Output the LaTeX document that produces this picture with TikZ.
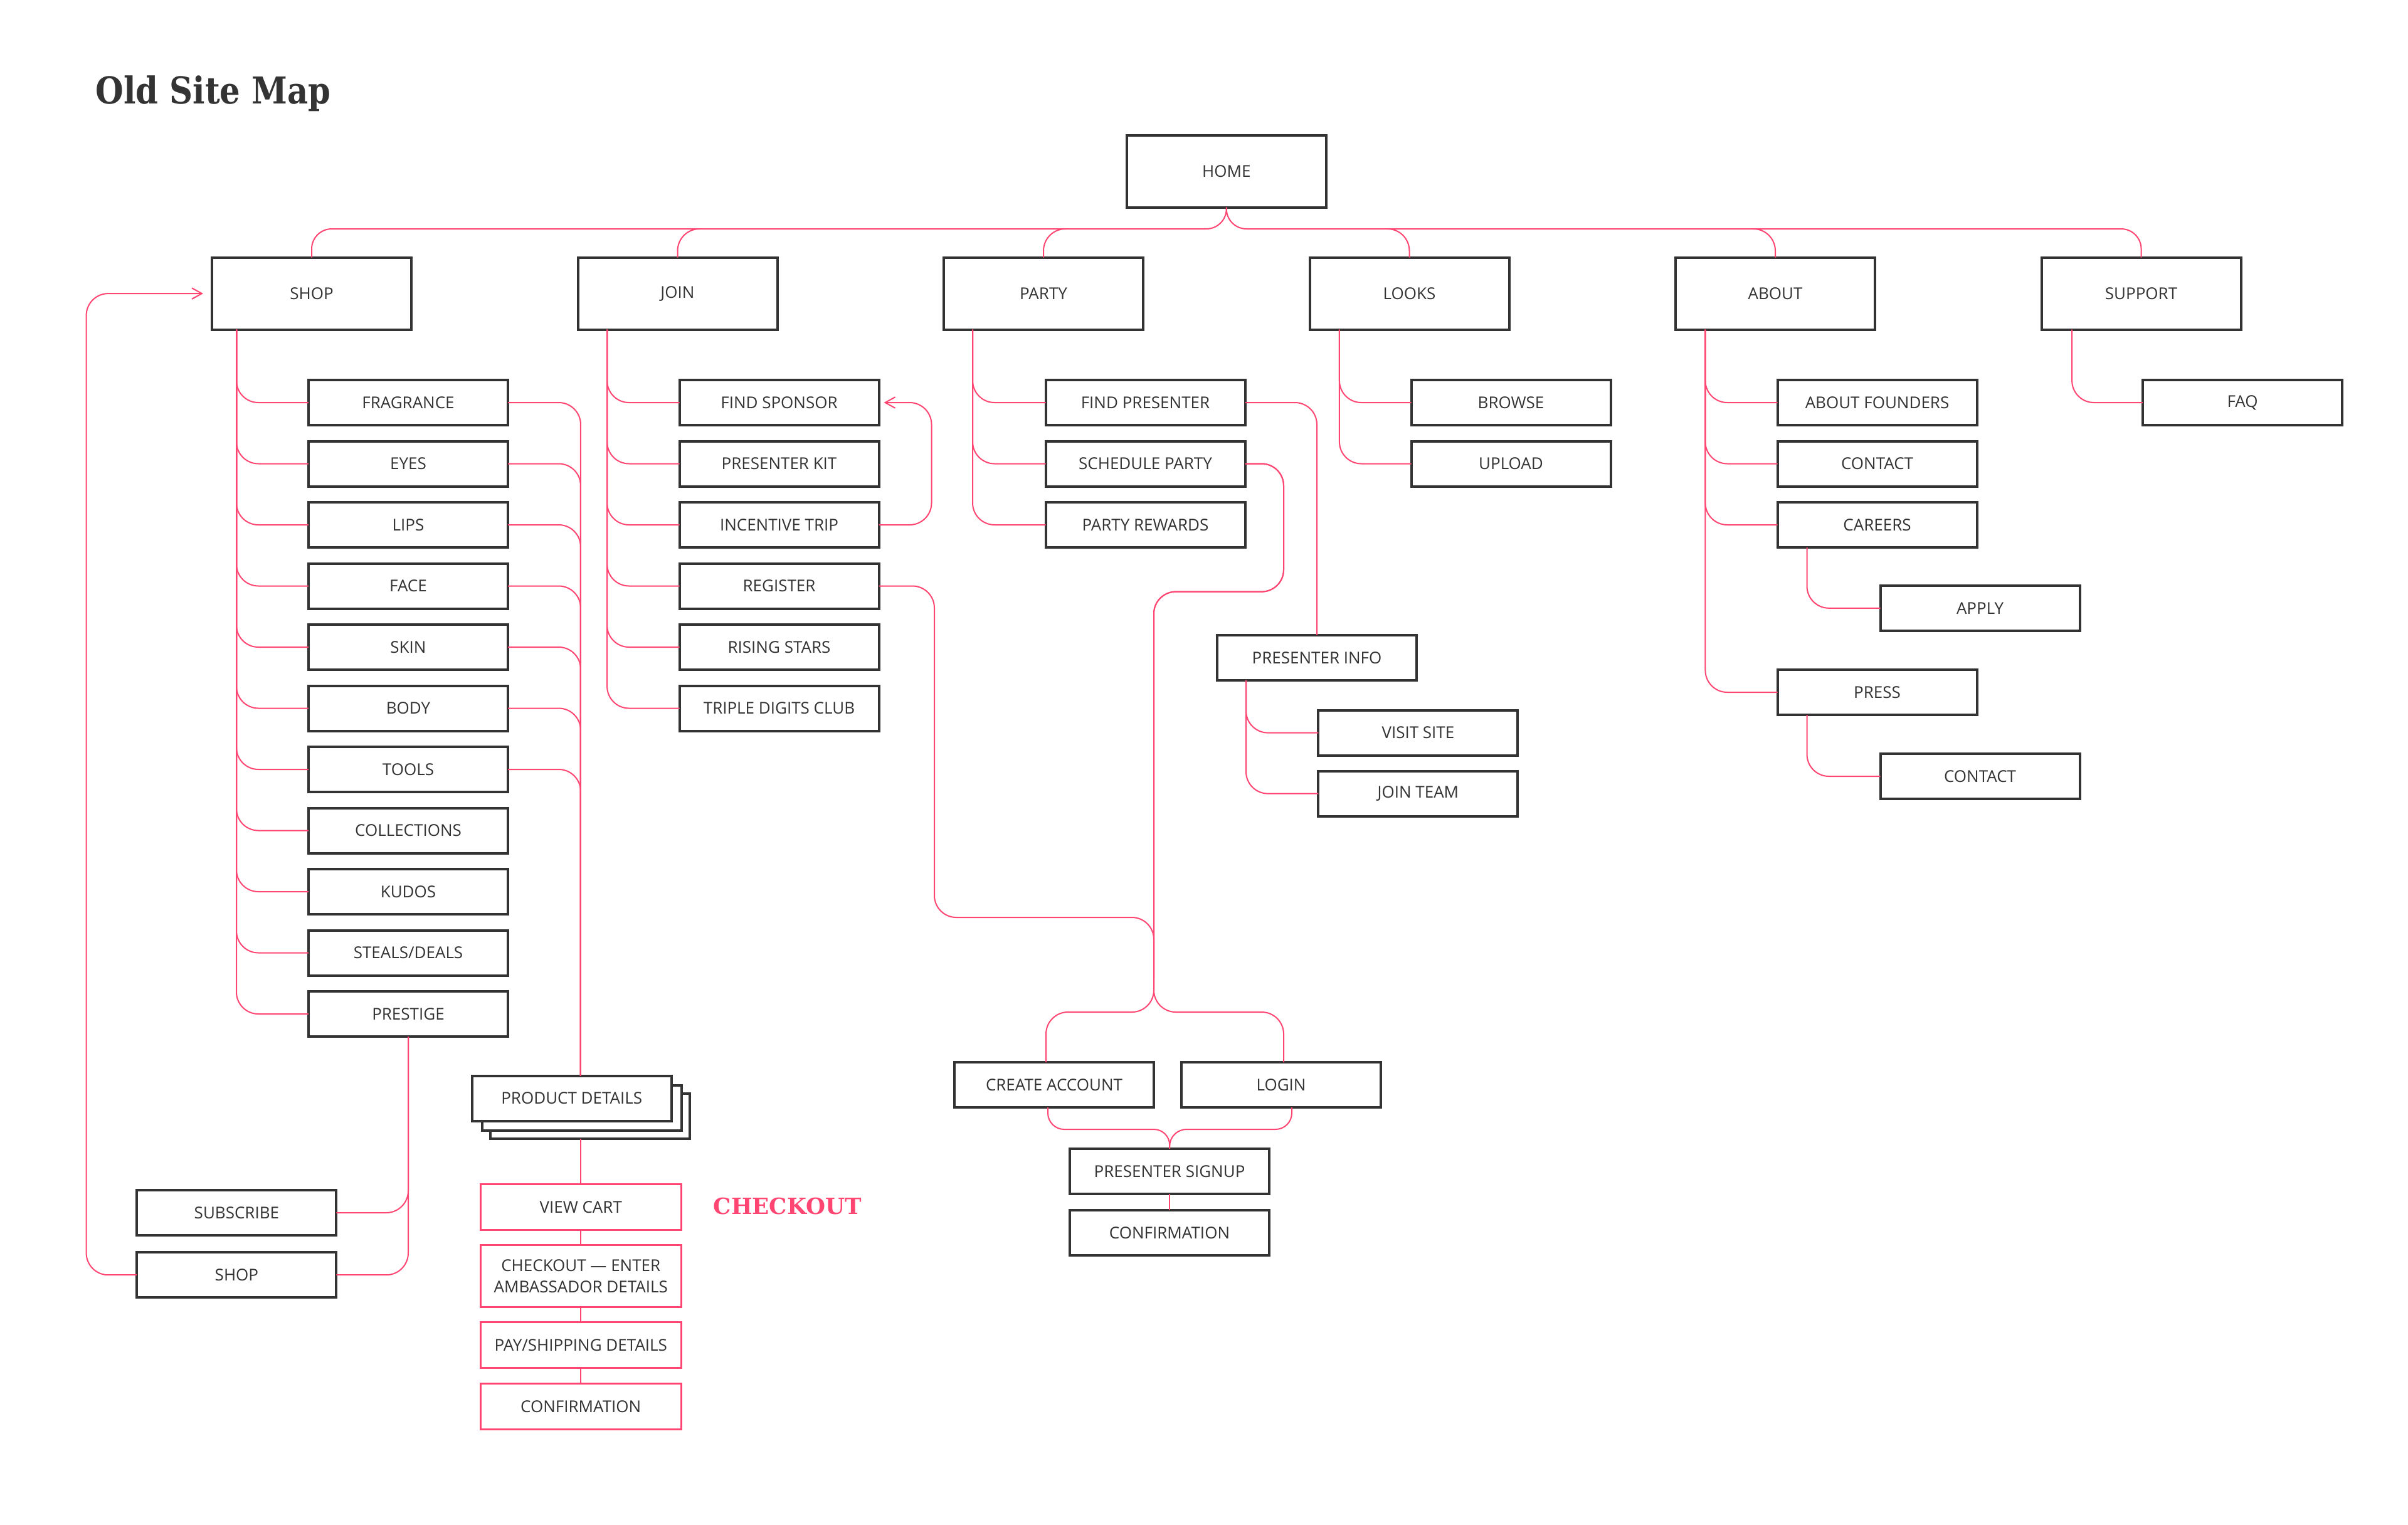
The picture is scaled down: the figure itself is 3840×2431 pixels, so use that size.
\documentclass[tikz,border=0pt]{standalone}
\usepackage{fontspec}
\setmainfont{Open Sans}
\newfontfamily\slab{DejaVu Serif}
\usetikzlibrary{arrows.meta,calc}
\definecolor{ink}{HTML}{333333}
\definecolor{rose}{HTML}{FF4571}
\begin{document}
\begin{tikzpicture}[x=0.25pt,y=-0.25pt,
  box/.style={draw=ink, line width=1pt, fill=white, inner sep=0pt, outer sep=0pt,
    minimum width=79.5pt, text=ink, font=\fontsize{6.5}{8.5}\selectfont, align=center},
  topbox/.style={box, minimum height=28.75pt},
  subbox/.style={box, minimum height=18pt},
  pinkbox/.style={box, draw=rose, line width=0.75pt, minimum width=79.9pt, minimum height=18.3pt},
  link/.style={draw=rose, line width=0.5pt, rounded corners=8.75pt},
  tip/.style={-{Straight Barb[length=4pt,width=4.4pt]}}
]
\useasboundingbox (0,0) rectangle (3840,2431);

% titles
\node[anchor=base west, inner sep=0pt, text=ink] (title) at (151.7,165)
  {\scalebox{0.87}[1]{\fontsize{14.75}{16}\slab\bfseries Old Site Map}};
\node[anchor=base west, inner sep=0pt, text=rose] (cklabel) at (1137,1936)
  {\fontsize{8.9}{10}\slab\bfseries CHECKOUT};

% top level
\node[topbox] (home) at (1955.75,273.2) {HOME};
\node[topbox] (shop) at (497,468.1) {SHOP};
\node[topbox] (join) at (1080.5,468.1) {JOIN};
\node[topbox] (party) at (1664,468.1) {PARTY};
\node[topbox] (looks) at (2247.5,468.1) {LOOKS};
\node[topbox] (about) at (2831,468.1) {ABOUT};
\node[topbox] (support) at (3414.5,468.1) {SUPPORT};

% shop children
\node[subbox] (frag) at (651,642) {FRAGRANCE};
\node[subbox] (eyes) at (651,739.5) {EYES};
\node[subbox] (lips) at (651,837) {LIPS};
\node[subbox] (face) at (651,934.5) {FACE};
\node[subbox] (skin) at (651,1032) {SKIN};
\node[subbox] (body) at (651,1129.5) {BODY};
\node[subbox] (tools) at (651,1227) {TOOLS};
\node[subbox] (coll) at (651,1324.5) {COLLECTIONS};
\node[subbox] (kudos) at (651,1422) {KUDOS};
\node[subbox] (steals) at (651,1519.5) {STEALS/DEALS};
\node[subbox] (prestige) at (651,1617) {PRESTIGE};

% join children
\node[subbox] (fs) at (1242.5,642) {FIND SPONSOR};
\node[subbox] (pk) at (1242.5,739.5) {PRESENTER KIT};
\node[subbox] (it) at (1242.5,837) {INCENTIVE TRIP};
\node[subbox] (reg) at (1242.5,934.5) {REGISTER};
\node[subbox] (rs) at (1242.5,1032) {RISING STARS};
\node[subbox] (tdc) at (1242.5,1129.5) {TRIPLE DIGITS CLUB};

% party children
\node[subbox] (fp) at (1826.5,642) {FIND PRESENTER};
\node[subbox] (sp) at (1826.5,739.5) {SCHEDULE PARTY};
\node[subbox] (pr) at (1826.5,837) {PARTY REWARDS};
\node[subbox] (pinfo) at (2100,1048.8) {PRESENTER INFO};
\node[subbox] (visit) at (2261.4,1168.6) {VISIT SITE};
\node[subbox] (jteam) at (2261.4,1265.6) {JOIN TEAM};

% looks children
\node[subbox] (browse) at (2409.5,642) {BROWSE};
\node[subbox] (upload) at (2409.5,739.5) {UPLOAD};

% about children
\node[subbox] (founders) at (2993.5,642) {ABOUT FOUNDERS};
\node[subbox] (contact) at (2993.5,739.5) {CONTACT};
\node[subbox] (careers) at (2993.5,837) {CAREERS};
\node[subbox] (apply) at (3157.5,969.8) {APPLY};
\node[subbox] (press) at (2993.5,1104) {PRESS};
\node[subbox] (acontact) at (3157.5,1238) {CONTACT};

% support children
\node[subbox] (faq) at (3576,642) {FAQ};

% account flow
\node[subbox] (ca) at (1681,1730) {CREATE ACCOUNT};
\node[subbox] (login) at (2043,1730) {LOGIN};
\node[subbox] (ps) at (1865,1867.8) {PRESENTER SIGNUP};
\node[subbox] (conf2) at (1865,1965.8) {CONFIRMATION};

% shop bottom
\node[subbox] (sub) at (377.4,1934) {SUBSCRIBE};
\node[subbox] (shop2) at (377.4,2033.2) {SHOP};

% product details stack
\node[subbox] (pd3) at (940.75,1779.5) {};
\node[subbox] (pd2) at (928.25,1767) {};
\node[subbox] (pd) at (911.75,1751.5) {PRODUCT DETAILS};

% checkout
\node[pinkbox] (vc) at (926.25,1925) {VIEW CART};
\node[pinkbox, minimum height=24.75pt] (co) at (926.25,2035.3) {CHECKOUT --- ENTER\\AMBASSADOR DETAILS};
\node[pinkbox] (pay) at (926.25,2145.3) {PAY/SHIPPING DETAILS};
\node[pinkbox] (cf) at (926.25,2242.75) {CONFIRMATION};

% ---------- connectors ----------
\coordinate (busL) at (497,365);
\coordinate (busR) at (3414.5,365);
\draw[link, rounded corners=8pt] (home.south) |- (busL) -- (shop.north);
\draw[link, rounded corners=8pt] (home.south) |- (busR) -- (support.north);
\coordinate (joinB) at (1116.5,365);
\coordinate (partyB) at (1700,365);
\coordinate (looksB) at (2211.5,365);
\coordinate (aboutB) at (2795,365);
\draw[link] (joinB) -| (join.north);
\draw[link] (partyB) -| (party.north);
\draw[link] (looksB) -| (looks.north);
\draw[link] (aboutB) -| (about.north);

% trunks
\foreach \c in {frag,eyes,lips,face,skin,body,tools,coll,kudos,steals,prestige}
  \draw[link] ([xshift=-30pt]shop.south) |- (\c.west);
\foreach \c in {fs,pk,it,reg,rs,tdc}
  \draw[link] ([xshift=-28.1pt]join.south) |- (\c.west);
\foreach \c in {fp,sp,pr}
  \draw[link] ([xshift=-28.25pt]party.south) |- (\c.west);
\foreach \c in {browse,upload}
  \draw[link] ([xshift=-27.9pt]looks.south) |- (\c.west);
\foreach \c in {founders,contact,careers,press}
  \draw[link] ([xshift=-27.9pt]about.south) |- (\c.west);
\draw[link] ([xshift=-27.6pt]support.south) |- (faq.west);
\draw[link] ([xshift=-28pt]careers.south) |- (apply.west);
\draw[link] ([xshift=-28pt]press.south) |- (acontact.west);
\foreach \c in {visit,jteam}
  \draw[link] ([xshift=-28.25pt]pinfo.south) |- (\c.west);

% shop right side to product details
\coordinate (pdT) at ([xshift=3.55pt]pd.north);
\foreach \c in {frag,eyes,lips,face,skin,body,tools}
  \draw[link] (\c.east) -| (pdT);
\draw[link] (vc.north |- pd3.south) -- (vc.north);
\draw[link] (vc.south) -- (co.north);
\draw[link] (co.south) -- (pay.north);
\draw[link] (pay.south) -- (cf.north);

% prestige to subscribe / shop
\draw[link] (prestige.south) |- (sub.east);
\draw[link] (prestige.south) |- (shop2.east);
\coordinate (loopJ) at (137.6,468.1);
\draw[link, tip] (shop2.west) -| (loopJ) -- ([xshift=-3.5pt]shop.west);

% incentive trip back to find sponsor
\coordinate (itJ) at (1485.5,642);
\draw[link, tip] (it.east) -| (itJ) -- ([xshift=2pt]fs.east);

% find presenter to presenter info
\draw[link] (fp.east) -| (pinfo.north);

% schedule party / register to create account + login
\coordinate (spJ) at (2047,943.6);
\coordinate (splitJ) at (1840,1614);
\draw[link] (sp.east) -| (spJ) -| (splitJ) -| ([xshift=-3.25pt]ca.north);
\draw[link] (sp.east) -| (spJ) -| (splitJ) -| ([xshift=1pt]login.north);
\coordinate (regJ) at (1490,1463);
\coordinate (regEnd) at (1840,1560);
\draw[link] (reg.east) -| (regJ) -| (regEnd);

% create account / login to presenter signup
\coordinate (psJ) at (1866,1801);
\draw[link, rounded corners=6.5pt] ([xshift=-2.5pt]ca.south) |- (psJ) -- (ps.north);
\draw[link, rounded corners=6.5pt] ([xshift=4.25pt]login.south) |- (psJ) -- (ps.north);
\draw[link] (ps.south) -- (conf2.north);
\end{tikzpicture}
\end{document}
